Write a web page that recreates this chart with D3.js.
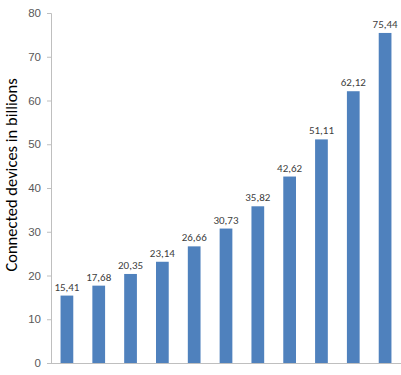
<!DOCTYPE html>
<html>
<head>
<meta charset="utf-8">
<script src="https://cdn.jsdelivr.net/npm/d3@7"></script>
<style>
  body { margin: 0; background: #fff; }
  svg { display: block; font-family: Calibri, Carlito, "Open Sans", sans-serif; }
</style>
</head>
<body>
<svg width="401" height="375"></svg>
<script>
const categories = ["1","2","3","4","5","6","7","8","9","10","11"];
const values = [15.41, 17.68, 20.35, 23.14, 26.66, 30.73, 35.82, 42.62, 51.11, 62.12, 75.44];
const labels = ["15,41","17,68","20,35","23,14","26,66","30,73","35,82","42,62","51,11","62,12","75,44"];
const yTicks = [0, 10, 20, 30, 40, 50, 60, 70, 80];

const svg = d3.select("svg"),
    width = +svg.attr("width"),
    height = +svg.attr("height");

const plotLeft = 51, plotRight = 401, plotTop = 13, plotBottom = 363;

const x = d3.scaleBand()
            .domain(categories)
            .range([plotLeft, plotRight])
            .paddingInner(0.6)
            .paddingOuter(0.3);

const y = d3.scaleLinear()
            .domain([0, 80])
            .range([plotBottom, plotTop]);

// y axis
const yAxis = svg.append("g")
   .attr("transform", `translate(${plotLeft},0)`)
   .call(d3.axisLeft(y).tickValues(yTicks).tickSize(4).tickPadding(6));
yAxis.select(".domain").attr("stroke", "#bfbfbf");
yAxis.selectAll(".tick line").attr("stroke", "#bfbfbf");
yAxis.selectAll(".tick text")
     .attr("fill", "#595959")
     .style("font-size", "11.5px");

// x axis line
svg.append("line")
   .attr("x1", plotLeft).attr("x2", plotRight)
   .attr("y1", plotBottom + 0.5).attr("y2", plotBottom + 0.5)
   .attr("stroke", "#bfbfbf");

// bars
svg.append("g")
   .selectAll("rect")
   .data(values)
   .enter().append("rect")
   .attr("x", (d, i) => x(categories[i]))
   .attr("y", d => y(d))
   .attr("width", x.bandwidth())
   .attr("height", d => y(0) - y(d))
   .attr("fill", "#4f81bd");

// value labels
svg.append("g")
   .selectAll("text")
   .data(values)
   .enter().append("text")
   .attr("x", (d, i) => x(categories[i]) + x.bandwidth() / 2)
   .attr("y", d => y(d) - 5)
   .attr("text-anchor", "middle")
   .attr("fill", "#404040")
   .style("font-size", "11px")
   .text((d, i) => labels[i]);

// y title
svg.append("text")
   .attr("transform", `translate(17,175) rotate(-90)`)
   .attr("text-anchor", "middle")
   .attr("fill", "#000")
   .style("font-size", "16.5px")
   .text("Connected devices in billions");
</script>
</body>
</html>
